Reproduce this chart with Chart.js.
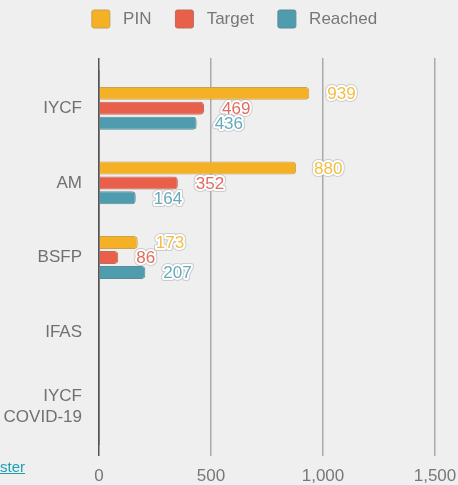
<!DOCTYPE html>
<html>
<head>
<meta charset="utf-8">
<script src="https://cdn.jsdelivr.net/npm/chart.js@4/dist/chart.umd.min.js"></script>
<style>
  html, body { margin: 0; padding: 0; background: #efefef; overflow: hidden; }
  #wrap { position: relative; width: 458px; height: 485px; overflow: hidden; }
  #chartCanvas { position: absolute; left: 0; top: -19px; }
  #link { position: absolute; left: 0; top: 458px; font: 15px "Liberation Sans", Arial, sans-serif;
          color: #1a9fb5; text-decoration: underline; }
</style>
</head>
<body>
<div id="wrap">
  <canvas id="chartCanvas" width="458" height="504"></canvas>
  <a id="link">ster</a>
</div>
<script>
const categories = ["IYCF", "AM", "BSFP", "IFAS", ["IYCF", "COVID-19"]];
const pinValues = [939, 880, 173, null, null];
const targetValues = [469, 352, 86, null, null];
const reachedValues = [436, 164, 207, null, null];
const xTicks = [0, 500, 1000, 1500];

const FONT = "'Liberation Sans', Arial, sans-serif";

// draws the value next to each bar, coloured text with a white halo
const valueLabels = {
  id: "valueLabels",
  afterDatasetsDraw(chart) {
    const ctx = chart.ctx;
    ctx.save();
    ctx.font = "17px " + FONT;
    ctx.textAlign = "left";
    ctx.textBaseline = "middle";
    ctx.lineJoin = "round";
    chart.data.datasets.forEach((ds, i) => {
      const meta = chart.getDatasetMeta(i);
      meta.data.forEach((bar, j) => {
        const v = ds.data[j];
        if (v === null || v === undefined) return;
        const x = bar.x + 18;
        const y = bar.y + 1;
        const txt = v.toLocaleString("en-US");
        ctx.strokeStyle = "rgba(170,170,170,0.5)";
        ctx.lineWidth = 6;
        ctx.strokeText(txt, x, y);
        ctx.strokeStyle = "#fff";
        ctx.lineWidth = 4;
        ctx.strokeText(txt, x, y);
        ctx.fillStyle = ds.labelColor;
        ctx.fillText(txt, x, y);
      });
    });
    ctx.restore();
  }
};

// more room under the legend, and nudge it to where the original sits
const legendTweak = {
  id: "legendTweak",
  beforeInit(chart) {
    const lg = chart.legend;
    const fit = lg.fit;
    lg.fit = function () {
      fit.bind(lg)();
      this.height += 25;
    };
    const draw = lg.draw;
    lg.draw = function () {
      this.ctx.save();
      this.ctx.translate(17, 5);
      draw.call(lg);
      this.ctx.restore();
    };
  }
};

const gridColor = c => (c.tick && c.tick.value === 0) ? "#555" : "#aaa";
const noSidePad = s => { s.paddingRight = 0; s.paddingLeft = 0; };

const ctx = document.getElementById("chartCanvas").getContext("2d");
const chart = new Chart(ctx, {
  type: "bar",
  data: {
    labels: categories,
    datasets: [
      { label: "PIN", data: pinValues, backgroundColor: "#f4b126", borderColor: "#c9a150", labelColor: "#f2be40" },
      { label: "Target", data: targetValues, backgroundColor: "#e8604a", borderColor: "#c06a5c", labelColor: "#e06c60" },
      { label: "Reached", data: reachedValues, backgroundColor: "#4e9cad", borderColor: "#5a8c96", labelColor: "#66aabb" }
    ]
  },
  options: {
    indexAxis: "y",
    responsive: false,
    animation: false,
    devicePixelRatio: 1,
    layout: { padding: { top: 0, right: 23, bottom: 0, left: 0 } },
    datasets: {
      bar: {
        borderWidth: 1,
        borderRadius: 4,
        borderSkipped: "start",
        barPercentage: 0.87,
        categoryPercentage: 0.6
      }
    },
    plugins: {
      legend: {
        position: "top",
        labels: {
          boxWidth: 18,
          boxHeight: 18,
          padding: 24,
          useBorderRadius: true,
          borderRadius: 2,
          color: "#777",
          font: { family: FONT, size: 17 },
          generateLabels: c => Chart.defaults.plugins.legend.labels.generateLabels(c)
            .map(l => Object.assign(l, { text: " " + l.text }))
        }
      },
      tooltip: { enabled: false }
    },
    scales: {
      x: {
        position: "bottom",
        min: 0,
        max: 1500,
        afterBuildTicks: s => { s.ticks = xTicks.map(v => ({ value: v })); },
        afterFit: s => { s.height = 41; noSidePad(s); },
        border: { display: false },
        grid: { color: gridColor, lineWidth: 1.5, tickLength: 12 },
        ticks: {
          padding: 10,
          color: "#777",
          font: { family: FONT, size: 17 },
          callback: v => v.toLocaleString("en-US")
        }
      },
      x2: {
        position: "top",
        min: 0,
        max: 1500,
        afterBuildTicks: s => { s.ticks = xTicks.map(v => ({ value: v })); },
        afterFit: s => { noSidePad(s); },
        border: { display: false },
        grid: { color: gridColor, lineWidth: 1.5, tickLength: 13, drawOnChartArea: false },
        ticks: { display: false }
      },
      y: {
        afterFit: s => { s.width = 99; },
        border: { display: true, color: "#555", width: 1.5 },
        grid: { display: false },
        ticks: {
          padding: 9,
          color: "#707070",
          font: { family: FONT, size: 17, lineHeight: 1.25 }
        }
      }
    }
  },
  plugins: [valueLabels, legendTweak]
});
</script>
</body>
</html>
